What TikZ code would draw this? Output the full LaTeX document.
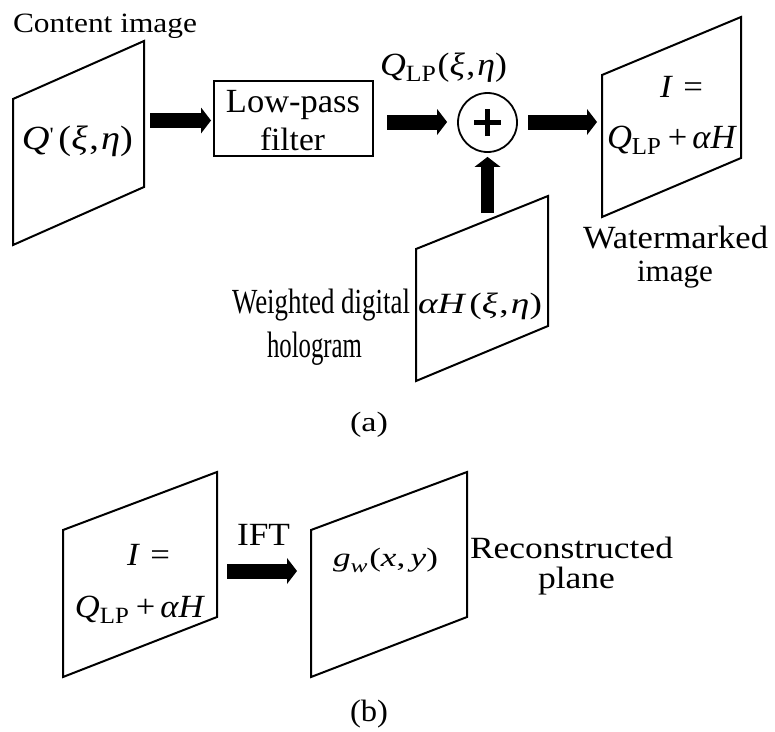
\documentclass[tikz,border=0pt]{standalone}
\usepackage{fontspec}
\setmainfont{Liberation Serif}
\usepackage{graphicx}
\usetikzlibrary{arrows.meta}
\newcommand{\myfs}{\fontsize{33}{36}\selectfont}
\newcommand{\fitbox}[3]{\resizebox{#1pt}{#2pt}{\myfs\rule{0pt}{0.68em}\smash{#3}}}
\newcommand{\lpsub}{\raisebox{-0.2em}{\scalebox{0.72}{LP}}}
\begin{document}
\begin{tikzpicture}[x=1pt,y=-1pt,
  plane/.style={line width=2pt, line join=miter},
  txt/.style={anchor=base, inner sep=0pt, outer sep=0pt},
  blockarrow/.style={line width=15pt, -{Triangle[width=26pt,length=10pt,line width=0pt]}}]
\useasboundingbox (0,0) rectangle (775,731);

% parallelograms
\draw[plane] (13,99) coordinate (p1tl) -- (144,41) coordinate (p1tr) -- (144,187) coordinate (p1br) -- (13,245) coordinate (p1bl) -- cycle;
\draw[plane] (602,75) coordinate (p2tl) -- (741,17) coordinate (p2tr) -- (741,158) coordinate (p2br) -- (602,217) coordinate (p2bl) -- cycle;
\draw[plane] (416,249) coordinate (p3tl) -- (548,196) coordinate (p3tr) -- (548,326) coordinate (p3br) -- (416,381) coordinate (p3bl) -- cycle;
\draw[plane] (63,530) coordinate (p4tl) -- (217,472) coordinate (p4tr) -- (217,617) coordinate (p4br) -- (63,677) coordinate (p4bl) -- cycle;
\draw[plane] (311,530) coordinate (p5tl) -- (467,472) coordinate (p5tr) -- (467,617) coordinate (p5br) -- (311,677) coordinate (p5bl) -- cycle;

% low-pass filter box and summing junction
\node[draw, line width=2pt, minimum width=159pt, minimum height=75pt, inner sep=0pt] (lpf) at (293.5,118.5) {};
\node[draw, circle, line width=1.8pt, minimum size=59pt, inner sep=0pt] (sum) at (487.5,122.5) {};
\draw[line width=4.5pt] ([xshift=-13.5pt]sum.center) -- ([xshift=13.5pt]sum.center);
\draw[line width=4.5pt] ([yshift=-13.5pt]sum.center) -- ([yshift=13.5pt]sum.center);

% arrow end points
\coordinate (a1s) at (150,120.5);
\coordinate (a2s) at (387,122);
\coordinate (a3s) at (528,122);
\coordinate (a3e) at (597,122);
\coordinate (a4s) at (487.5,213);
\coordinate (a5s) at (227,571);
\coordinate (a5e) at (297,571);

\draw[blockarrow] (a1s) -- ([xshift=-2pt]lpf.west |- a1s);
\draw[blockarrow] (a2s) -- ([xshift=-10pt]sum.west |- a2s);
\draw[blockarrow] (a3s) -- (a3e);
\draw[blockarrow, line width=13pt] (a4s) -- ([yshift=-4pt]sum.south);
\draw[blockarrow] (a5s) -- (a5e);

% texts
\node[txt] (content) at (105,32) {\fitbox{184}{19}{Content image}};
\node[txt] (qin) at (77.5,149) {\fitbox{111}{23}{\textit{Q}\raisebox{0.22em}{\scalebox{0.6}{\textquotesingle}}\hspace{0.12em}(\textit{ξ}\hspace{0.04em},\hspace{0.06em}\textit{η})}};
\node[txt] (lp1) at (293,112) {\fitbox{134}{23}{Low-pass}};
\node[txt] (lp2) at (292.5,150) {\fitbox{65}{22}{filter}};
\node[txt] (qlp) at (443.5,75) {\fitbox{127}{22}{\textit{Q}\lpsub\hspace{0.05em}(\textit{ξ}\hspace{0.04em},\hspace{0.06em}\textit{η})}};
\node[txt] (weq1) at (681.5,97) {\fitbox{43}{22}{\textit{I}\hspace{0.3em}=}};
\node[txt] (wsum1) at (672,148) {\fitbox{130}{23}{\textit{Q}\lpsub\hspace{0.2em}+\hspace{0.15em}\textit{αH}}};
\node[txt] (wm1) at (675.5,248) {\fitbox{185}{22}{Watermarked}};
\node[txt] (wm2) at (675,281) {\fitbox{76}{21}{image}};
\node[txt] (holo) at (480,313) {\fitbox{124}{20}{\textit{αH}\hspace{0.08em}(\textit{ξ}\hspace{0.04em},\hspace{0.06em}\textit{η})}};
\node[txt] (wd1) at (321,313) {\fitbox{178}{24}{Weighted digital}};
\node[txt] (wd2) at (314.5,357) {\fitbox{95}{25}{hologram}};
\node[txt] (capa) at (369,431) {\fitbox{38}{19}{(a)}};
\node[txt] (ieq2) at (148.5,565) {\fitbox{43}{22}{\textit{I}\hspace{0.3em}=}};
\node[txt] (isum2) at (140,617) {\fitbox{130}{22}{\textit{Q}\lpsub\hspace{0.2em}+\hspace{0.15em}\textit{αH}}};
\node[txt] (ift) at (263.5,545) {\fitbox{53}{22}{IFT}};
\node[txt] (gw) at (385.5,566) {\fitbox{105}{18}{\textit{g}\raisebox{-0.25em}{\scalebox{0.72}{\textit{w}}}\hspace{0.05em}(\textit{x},\hspace{0.15em}\textit{y})}};
\node[txt] (rec1) at (571.5,558) {\fitbox{203}{21}{Reconstructed}};
\node[txt] (rec2) at (576.5,588) {\fitbox{77}{21}{plane}};
\node[txt] (capb) at (369,721) {\fitbox{38}{21}{(b)}};
\end{tikzpicture}
\end{document}
